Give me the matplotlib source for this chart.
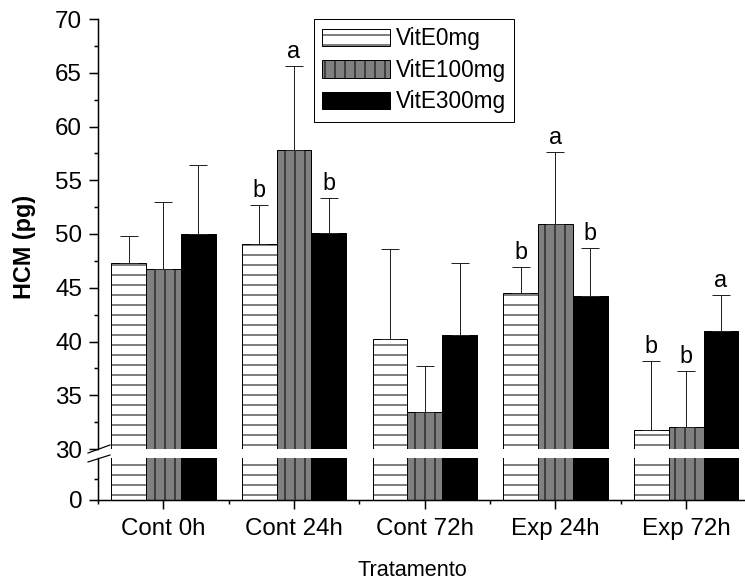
"""Broken-axis grouped bar chart of HCM by treatment and vitamin E dose."""

import matplotlib

matplotlib.use("Agg")
import matplotlib.pyplot as plt
import numpy as np
from matplotlib.lines import Line2D
from matplotlib.ticker import FixedLocator, MultipleLocator

groups = ["Cont 0h", "Cont 24h", "Cont 72h", "Exp 24h", "Exp 72h"]
series = ["VitE0mg", "VitE100mg", "VitE300mg"]

vit0 = [47.3, 49.1, 40.2, 44.5, 31.8]
vit0_err = [2.55, 3.6, 8.45, 2.4, 6.4]
vit100 = [46.7, 57.85, 33.4, 50.9, 32.05]
vit100_err = [6.3, 7.8, 4.3, 6.75, 5.25]
vit300 = [50.0, 50.1, 40.6, 44.2, 41.0]
vit300_err = [6.45, 3.25, 6.7, 4.5, 3.3]

letters0 = ["", "b", "", "b", "b"]
letters100 = ["", "a", "", "a", "b"]
letters300 = ["", "b", "", "b", "a"]

# figure is drawn at 60 dpi so the default hatch density gives ~10 px spacing
DPI = 60
PT = 72 / DPI  # points per pixel
W, H = 745, 587

plt.rcParams["font.family"] = ["Liberation Sans", "DejaVu Sans"]
plt.rcParams["hatch.linewidth"] = 1.0 * PT


def fx(px):
    return px / W


def fy(py):
    return 1 - py / H


fig = plt.figure(figsize=(W / DPI, H / DPI), dpi=DPI)
ax_top = fig.add_axes([fx(98), fy(449), fx(W - 98), (449 - 19) / H])
ax_bot = fig.add_axes([fx(98), fy(500), fx(W - 98), (500 - 458) / H])

x = np.arange(1, len(groups) + 1)
width = 0.266
offsets = [-width, 0, width]
data = [
    (vit0, vit0_err, "white", "-", letters0),
    (vit100, vit100_err, "#808080", "|", letters100),
    (vit300, vit300_err, "black", None, letters300),
]

handles = []
for ax in (ax_top, ax_bot):
    for j, (vals, errs, fc, hatch, lets) in enumerate(data):
        bars = ax.bar(x + offsets[j], vals, width, color=fc, edgecolor="black",
                      hatch=hatch, linewidth=1.0 * PT, label=series[j], zorder=2)
        ax.errorbar(x + offsets[j], vals, yerr=[np.zeros(len(vals)), errs],
                    fmt="none", ecolor="#222222", elinewidth=1.0 * PT,
                    capsize=9 * PT, capthick=1.0 * PT, zorder=3)
        if ax is ax_top:
            handles.append(bars)
            for xi, v, e, t in zip(x + offsets[j], vals, errs, lets):
                if t:
                    ax.annotate(t, (xi, v + e), xytext=(0, 8 * PT),
                                textcoords="offset points", ha="center",
                                va="baseline", fontsize=28)

for ax in (ax_top, ax_bot):
    ax.set_xlim(0.5, 5.45)
    for s in ("top", "right"):
        ax.spines[s].set_visible(False)
    ax.spines["left"].set_linewidth(1.5 * PT)
    ax.spines["bottom"].set_linewidth(1.5 * PT)
    ax.tick_params(which="major", direction="out", length=9 * PT,
                   width=1.5 * PT, labelsize=29, pad=7 * PT)
    ax.tick_params(which="minor", direction="out", length=4.5 * PT,
                   width=1.5 * PT)

ax_top.set_ylim(30, 70)
ax_top.yaxis.set_major_locator(MultipleLocator(5))
ax_top.yaxis.set_minor_locator(MultipleLocator(2.5))
ax_top.spines["bottom"].set_visible(False)
ax_top.tick_params(axis="x", which="both", bottom=False, labelbottom=False)

ax_bot.set_ylim(0, 30)
ax_bot.yaxis.set_major_locator(FixedLocator([0]))
ax_bot.yaxis.set_minor_locator(FixedLocator([15]))
ax_bot.set_xticks(x)
ax_bot.set_xticklabels(groups)
ax_bot.xaxis.set_minor_locator(FixedLocator(np.arange(0.5, 6, 1.0)))
ax_bot.tick_params(axis="x", which="major", pad=9 * PT)

# axis break marks
for y0, y1 in ((453, 445), (462, 455)):
    fig.add_artist(Line2D([fx(88), fx(110)], [fy(y0), fy(y1)],
                          color="black", lw=1.2 * PT))

ax_top.legend(handles, series, loc="upper left",
              bbox_to_anchor=(fx(314), fy(19)), bbox_transform=fig.transFigure,
              borderaxespad=0, fontsize=27, handlelength=3.0, handleheight=0.8,
              labelspacing=0.38, handletextpad=0.27, borderpad=0.37,
              fancybox=False, framealpha=1, edgecolor="black")
ax_top.get_legend().get_frame().set_linewidth(1.0 * PT)

fig.text(fx(25), fy(247), "HCM (pg)", rotation=90, ha="center", va="center",
         fontsize=28, fontweight="bold")
fig.text(fx(412), fy(570), "Tratamento", ha="center", va="center", fontsize=26)

fig.savefig("out.png", dpi=DPI)
